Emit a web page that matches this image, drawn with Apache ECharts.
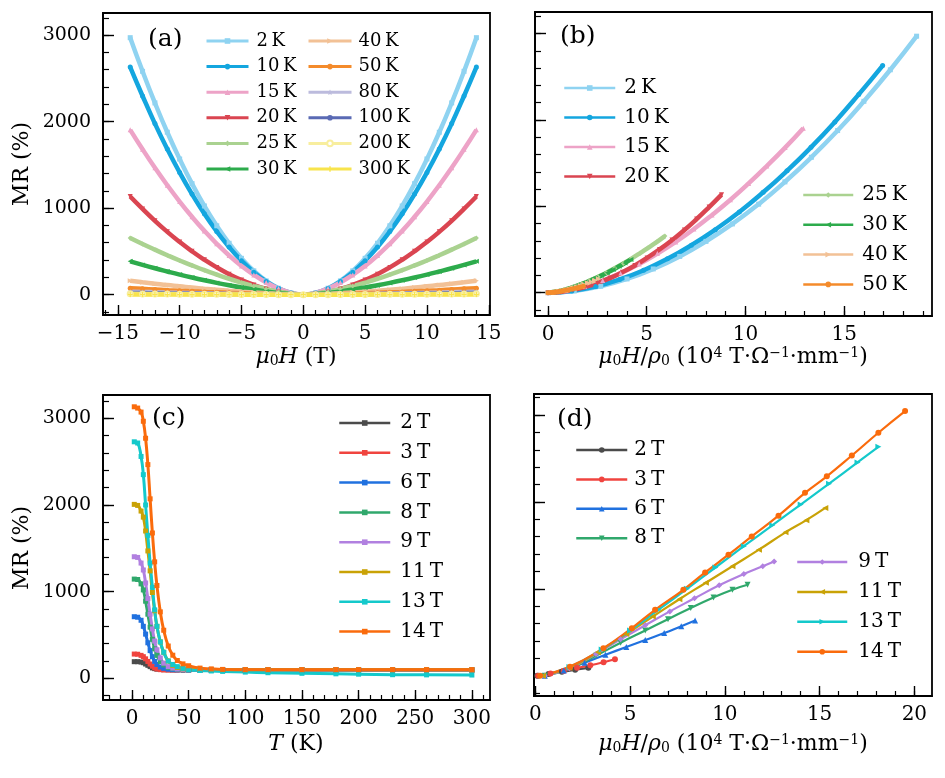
<!DOCTYPE html>
<html><head><meta charset="utf-8">
<script src="https://cdn.jsdelivr.net/npm/echarts@6/dist/echarts.min.js"></script>
<style>html,body{margin:0;padding:0;background:#fff}#c{width:945px;height:778px}</style>
</head><body><div id="c"></div>
<script>
// ---------------- DATA ----------------
const SP = '\u2009';
// (a) MR vs field
const fieldA = [-14,-13,-12,-11,-10,-9,-8,-7,-6,-5,-4,-3,-2,-1,0,1,2,3,4,5,6,7,8,9,10,11,12,13,14];
const tempsA = ['2','10','15','20','25','30','40','50','80','100','200','300'];
const mrA2K   = [2970,2581,2216,1877,1568,1283,1025,796,594,420,275,159,74,20,0,20,74,159,275,420,594,796,1025,1283,1568,1877,2216,2581,2970];
const mrA10K  = [2630,2296,1977,1683,1412,1162,934,730,550,392,260,153,72,20,0,20,72,153,260,392,550,730,934,1162,1412,1683,1977,2296,2630];
const mrA15K  = [1905,1680,1466,1265,1076,900,737,588,453,332,228,141,71,22,0,22,71,141,228,332,453,588,737,900,1076,1265,1466,1680,1905];
const mrA20K  = [1135,991,853,726,609,501,403,315,237,169,112,66,31,9,0,9,31,66,112,169,237,315,403,501,609,726,853,991,1135];
const mrA25K  = [655,586,520,456,395,338,283,232,184,140,100,65,35,13,0,13,35,65,100,140,184,232,283,338,395,456,520,586,655];
const mrA30K  = [385,344,305,268,232,198,166,136,108,82,59,38,21,7,0,7,21,38,59,82,108,136,166,198,232,268,305,344,385];
const mrA40K  = [160,143,127,111,97,82,69,57,45,34,24,16,9,3,0,3,9,16,24,34,45,57,69,82,97,111,127,143,160];
const mrA50K  = [75,67,60,52,45,39,32,27,21,16,11,7,4,1,0,1,4,7,11,16,21,27,32,39,45,52,60,67,75];
const mrA80K  = [35,31,28,24,21,18,15,12,10,7,5,3,2,1,0,1,2,3,5,7,10,12,15,18,21,24,28,31,35];
const mrA100K = [20,18,16,14,12,10,9,7,6,4,3,2,1,0,0,0,1,2,3,4,6,7,9,10,12,14,16,18,20];
const mrA200K = [10,9,8,7,6,5,4,4,3,2,1,1,0,0,0,0,0,1,1,2,3,4,4,5,6,7,8,9,10];
const mrA300K = [2,2,2,1,1,1,1,1,1,0,0,0,0,0,0,0,0,0,0,0,1,1,1,1,1,1,2,2,2];
const mrA = [mrA2K,mrA10K,mrA15K,mrA20K,mrA25K,mrA30K,mrA40K,mrA50K,mrA80K,mrA100K,mrA200K,mrA300K];

// (b) Kohler plot: x = mu0H/rho0 for H = 0..14 T (MR from the positive half of (a))
const tempsB = ['2','10','15','20','25','30','40','50'];
const xB2K  = [0,1.33,2.67,4.00,5.33,6.67,8.00,9.34,10.67,12.00,13.34,14.67,16.00,17.34,18.67];
const xB10K = [0,1.21,2.42,3.63,4.84,6.05,7.26,8.47,9.69,10.90,12.11,13.32,14.53,15.74,16.95];
const xB15K = [0,0.92,1.85,2.77,3.69,4.62,5.54,6.47,7.39,8.31,9.24,10.16,11.08,12.01,12.93];
const xB20K = [0,0.63,1.26,1.88,2.51,3.14,3.77,4.40,5.02,5.65,6.28,6.91,7.53,8.16,8.79];
const xB25K = [0,0.42,0.85,1.27,1.69,2.11,2.54,2.96,3.38,3.81,4.23,4.65,5.07,5.50,5.92];
const xB30K = [0,0.3,0.6,0.9,1.2,1.5,1.8,2.1,2.4,2.7,3.0,3.3,3.6,3.9,4.2];
const xB40K = [0,0.18,0.36,0.55,0.73,0.91,1.09,1.27,1.46,1.64,1.82,2.00,2.19,2.37,2.55];
const xB50K = [0,0.13,0.26,0.38,0.51,0.64,0.77,0.90,1.02,1.15,1.28,1.41,1.53,1.66,1.79];
const xB = [xB2K,xB10K,xB15K,xB20K,xB25K,xB30K,xB40K,xB50K];

// (c) MR vs T
const tempC = [2,5,8,10,12,14,16,18,20,22,25,28,32,36,40,45,50,60,70,80,100,120,150,180,200,230,260,300];
const fieldsC = ['2','3','6','8','9','11','13','14'];
const mrC2T  = [192,192,188,180,165,150,135,120,112,106,102,100,99,98,98,97,97,97,97,97,97,97,97,97,97,97,97,97];
const mrC3T  = [280,278,265,250,225,195,165,140,120,108,100,97,95,95,95,95,95,95,95,95,95,95,95,95,95,95,95,95];
const mrC6T  = [711,705,670,600,510,410,320,250,195,160,130,115,105,100,98,97,96,96,96,96,96,96,96,96,96,96,96,96];
const mrC8T  = [1145,1140,1090,1020,890,740,590,450,340,265,195,155,125,112,105,100,98,97,97,97,97,97,97,97,97,97,97,97];
const mrC9T  = [1403,1395,1330,1250,1100,920,740,570,430,330,235,175,135,118,108,102,99,97,97,97,97,97,97,97,97,97,97,97];
const mrC11T = [2007,1995,1930,1860,1700,1470,1240,990,780,600,420,300,200,150,125,110,104,100,98,98,98,98,98,98,98,98,98,98];
const mrC13T = [2729,2715,2560,2350,2000,1650,1330,1050,790,600,420,300,200,160,135,115,100,90,85,80,72,65,58,52,48,42,40,38];
const mrC14T = [3133,3118,3072,2966,2770,2466,2071,1677,1344,1071,767,555,373,267,206,167,145,118,109,103,100,100,100,100,100,100,100,100];
const mrC = [mrC2T,mrC3T,mrC6T,mrC8T,mrC9T,mrC11T,mrC13T,mrC14T];

// (d) Kohler plot per field
const xD2T  = [0.1,0.7,1.4,2.1,2.8];
const mrD2T = [0,20,45,68,90];
const xD3T  = [0.15,0.8,1.5,2.2,2.9,3.6,4.2];
const mrD3T = [0,25,55,90,120,155,189];
const xD6T  = [0.5,1.5,2.6,3.7,4.8,5.8,6.8,7.7,8.43];
const mrD6T = [0,60,150,240,330,410,490,570,634];
const xD8T  = [0.5,1.8,3.2,4.5,5.8,7.0,8.2,9.4,10.4,11.2];
const mrD8T = [0,80,230,380,520,650,780,900,990,1046];
const xD9T  = [0.5,1.8,3.2,4.5,5.8,7.1,8.4,9.7,11.0,12.0,12.6];
const mrD9T = [0,85,250,420,580,740,890,1040,1170,1260,1315];
const xD11T  = [0.4,1.8,3.3,4.8,6.2,7.6,9.0,10.4,11.8,13.2,14.3,15.3];
const mrD11T = [0,90,270,480,680,880,1070,1260,1450,1650,1790,1931];
const xD13T  = [0.3,1.8,3.5,5.0,6.5,8.0,9.5,11.0,12.5,14.0,15.5,17.0,18.1];
const mrD13T = [0,100,300,520,760,1000,1245,1490,1730,1970,2210,2455,2634];
const xD14T  = [0.25,1.83,3.59,5.09,6.32,7.81,8.96,10.19,11.42,12.83,14.23,15.38,16.70,18.1,19.51];
const mrD14T = [0,104,316,547,758,988,1188,1392,1603,1842,2104,2295,2534,2796,3045];
const xD = [xD2T,xD3T,xD6T,xD8T,xD9T,xD11T,xD13T,xD14T];
const mrD = [mrD2T,mrD3T,mrD6T,mrD8T,mrD9T,mrD11T,mrD13T,mrD14T];

// tick values
const ticksXA = [-15,-10,-5,0,5,10,15];
const minorXA = [-16,-15,-14,-13,-12,-11,-10,-9,-8,-7,-6,-5,-4,-3,-2,-1,0,1,2,3,4,5,6,7,8,9,10,11,12,13,14,15];
const ticksXB = [0,5,10,15];
const minorXB = [0,1,2,3,4,5,6,7,8,9,10,11,12,13,14,15,16,17,18,19];
const ticksXC = [0,50,100,150,200,250,300];
const minorXC = [-20,-10,0,10,20,30,40,50,60,70,80,90,100,110,120,130,140,150,160,170,180,190,200,210,220,230,240,250,260,270,280,290,300,310];
const ticksXD = [0,5,10,15,20];
const minorXD = [0,1,2,3,4,5,6,7,8,9,10,11,12,13,14,15,16,17,18,19,20];
const ticksMR = [0,1000,2000,3000];
const minorMR = [-200,0,200,400,600,800,1000,1200,1400,1600,1800,2000,2200,2400,2600,2800,3000,3200];

// ---------------- STYLE ----------------
const FONT = 'DejaVu Serif';
const STAR = 'path://M0,-10L2.9,-4L9.5,-3.1L4.7,1.5L5.9,8.1L0,5L-5.9,8.1L-4.7,1.5L-9.5,-3.1L-2.9,-4Z';
const PLUS = 'path://M-1.5,-6L1.5,-6L1.5,-1.5L6,-1.5L6,1.5L1.5,1.5L1.5,6L-1.5,6L-1.5,1.5L-6,1.5L-6,-1.5L-1.5,-1.5Z';
const colorA = ['#8fd3f1','#14a6df','#eda3c7','#da4551','#aad290','#2dab4c','#f2c196','#f48b2b','#bcbbdd','#5a6ab4','#f8ee9e','#f8e44c'];
const symA = ['rect','circle','triangle','triangle','diamond','triangle','triangle','circle',STAR,'circle','emptyCircle',PLUS];
const rotA = [0,0,0,180,0,90,-90,0,0,0,0,0];
const colorC = ['#4b4b4b','#f0443f','#2071df','#30a86c','#b180e0','#c9a206','#14c9cb','#fa6b0c'];
const symD = ['circle','circle','triangle','triangle','diamond','triangle','triangle','circle'];
const rotD = [0,0,0,180,0,90,-90,0];

const grids = [
  {left:103, top:13, width:387, height:302},
  {left:535, top:12, width:397, height:304},
  {left:103, top:395, width:387, height:305},
  {left:534, top:394, width:398, height:302}
];
const xr = [[-16.2,15.1],[-0.66,19.45],[-25.6,316],[-0.07,20.93]];
const yr = [[-235,3255],[-270,3250],[-250,3269],[-234,3242]];
const xMaj = [ticksXA,ticksXB,ticksXC,ticksXD];
const xMin = [minorXA,minorXB,minorXC,minorXD];
const yLab = [true,false,true,false];

const fmt = v => String(v).replace('-', '\u2212');
const xAxis = [], yAxis = [];
grids.forEach((g,i)=>{
  xAxis.push({type:'value', gridIndex:i, min:xr[i][0], max:xr[i][1], position:'bottom',
    axisLine:{show:true, onZero:false, lineStyle:{color:'#000', width:1.8}},
    axisTick:{show:true, inside:true, length:10, customValues:xMaj[i], lineStyle:{color:'#000', width:1.4}},
    axisLabel:{show:true, customValues:xMaj[i], formatter:fmt, margin:9, fontFamily:FONT, fontSize:20, color:'#000'},
    splitLine:{show:false}});
  xAxis.push({type:'value', gridIndex:i, min:xr[i][0], max:xr[i][1], position:'bottom',
    axisLine:{show:false, onZero:false},
    axisTick:{show:true, inside:true, length:5, customValues:xMin[i], lineStyle:{color:'#000', width:1.2}},
    axisLabel:{show:false}, splitLine:{show:false}});
  yAxis.push({type:'value', gridIndex:i, min:yr[i][0], max:yr[i][1], position:'left',
    axisLine:{show:true, onZero:false, lineStyle:{color:'#000', width:1.8}},
    axisTick:{show:true, inside:true, length:11, customValues:ticksMR, lineStyle:{color:'#000', width:1.4}},
    axisLabel:{show:yLab[i], customValues:ticksMR, formatter:v => String(v), margin:12, fontFamily:FONT, fontSize:19, color:'#000'},
    splitLine:{show:false}});
  yAxis.push({type:'value', gridIndex:i, min:yr[i][0], max:yr[i][1], position:'left',
    axisLine:{show:false, onZero:false},
    axisTick:{show:true, inside:true, length:6, customValues:minorMR, lineStyle:{color:'#000', width:1.2}},
    axisLabel:{show:false}, splitLine:{show:false}});
});

const series = [];
const namesA = tempsA.map(t => t + SP + 'K');
mrA.forEach((arr,i)=>{
  series.push({name:namesA[i], type:'line', xAxisIndex:0, yAxisIndex:0, smooth:true,
    data: fieldA.map((h,j)=>[h, arr[j]]),
    symbol:symA[i], symbolRotate:rotA[i], symbolSize:5, showSymbol:true,
    lineStyle:{width:4.5, color:colorA[i]}, itemStyle:{color:colorA[i]}});
});
const namesB = tempsB.map(t => t + SP + 'K');
xB.forEach((xs,i)=>{
  const ys = mrA[i].slice(14);
  series.push({name:namesB[i], type:'line', xAxisIndex:2, yAxisIndex:2, smooth:true,
    data: xs.map((x,j)=>[x, ys[j]]),
    symbol:symA[i], symbolRotate:rotA[i], symbolSize:5,
    lineStyle:{width:4.5, color:colorA[i]}, itemStyle:{color:colorA[i]}});
});
const namesC = fieldsC.map(f => f + SP + 'T');
mrC.forEach((arr,i)=>{
  series.push({name:namesC[i], type:'line', xAxisIndex:4, yAxisIndex:4, smooth:true,
    data: tempC.map((t,j)=>[t, arr[j]]),
    symbol:'rect', symbolSize:5,
    lineStyle:{width:3, color:colorC[i]}, itemStyle:{color:colorC[i]}});
});
const namesD = fieldsC.map(f => f + SP + 'T\u200B');
xD.forEach((xs,i)=>{
  series.push({name:namesD[i], type:'line', xAxisIndex:6, yAxisIndex:6, smooth:true,
    data: xs.map((x,j)=>[x, mrD[i][j]]),
    symbol:symD[i], symbolRotate:rotD[i], symbolSize:6,
    lineStyle:{width:2.2, color:colorC[i]}, itemStyle:{color:colorC[i]}});
});

function leg(data, left, top, itemWidth, gap, fontSize, lh, pad, lw){
  return {data, left, top, orient:'vertical', itemWidth, itemHeight:7, itemGap:gap,
    selectedMode:false, padding:0, lineStyle:{width:lw},
    textStyle:{fontFamily:FONT, fontSize, lineHeight:lh, color:'#000', padding:[0,0,0,pad]}};
}
const legend = [
  leg(namesA.slice(0,6), 205, 31, 42, 5.6, 18, 20, 3, 3),
  leg(namesA.slice(6), 307, 31, 43, 5.6, 18, 20, 2, 3),
  leg(namesB.slice(0,4), 563, 77, 51, 7.5, 20, 22, 4, 2.5),
  leg(namesB.slice(4), 802, 184, 50, 7.8, 20, 22, 4, 2.5),
  leg(namesC, 338, 412, 51, 7.8, 20, 22, 5, 2.5),
  leg(namesD.slice(0,4), 575, 439, 51, 7.4, 20, 22, 2, 2.5),
  leg(namesD.slice(4), 796, 551, 50, 7.9, 20, 22, 6, 2.5)
];

const rich = {
  i:{fontFamily:FONT, fontStyle:'italic', fontSize:22, color:'#000'},
  n:{fontFamily:FONT, fontSize:22, color:'#000'},
  s:{fontFamily:FONT, fontSize:14, verticalAlign:'bottom', lineHeight:14, color:'#000'},
  p:{fontFamily:FONT, fontSize:14, verticalAlign:'top', lineHeight:14, color:'#000'}
};
function txt(x, y, text, size, rot){
  return {type:'text', x, y, rotation:rot||0, silent:true,
    style:{text, fontFamily:FONT, fontSize:size, fill:'#000', align:'center', verticalAlign:'middle', rich}};
}
const kohlerName = '{i|μ}{s|0}{i|H}{n|/}{i|ρ}{s|0}{n| (10}{p|4}{n| T·Ω}{p|−1}{n|·mm}{p|−1}{n|)}';
const graphic = [
  txt(22, 164, 'MR (%)', 22, Math.PI/2),
  txt(22, 548, 'MR (%)', 22, Math.PI/2),
  txt(296, 357, '{i|μ}{s|0}{i|H}{n| (T)}', 22),
  txt(733, 357, kohlerName, 22),
  txt(296, 744, '{i|T}{n| (K)}', 22),
  txt(733, 744, kohlerName, 22),
  {type:'text', left:148, top:27, silent:true, style:{text:'(a)', fontFamily:FONT, fontSize:25, fill:'#000'}},
  {type:'text', left:560, top:24, silent:true, style:{text:'(b)', fontFamily:FONT, fontSize:25, fill:'#000'}},
  {type:'text', left:152, top:406, silent:true, style:{text:'(c)', fontFamily:FONT, fontSize:25, fill:'#000'}},
  {type:'text', left:557, top:407, silent:true, style:{text:'(d)', fontFamily:FONT, fontSize:25, fill:'#000'}}
];

const chart = echarts.init(document.getElementById('c'), null, {renderer:'canvas'});
chart.setOption({
  animation:false,
  backgroundColor:'#fff',
  grid: grids.map(g => Object.assign({show:true, borderColor:'#000', borderWidth:1.8, containLabel:false, outerBoundsMode:'none'}, g)),
  xAxis, yAxis, series, legend, graphic
});
</script></body></html>
